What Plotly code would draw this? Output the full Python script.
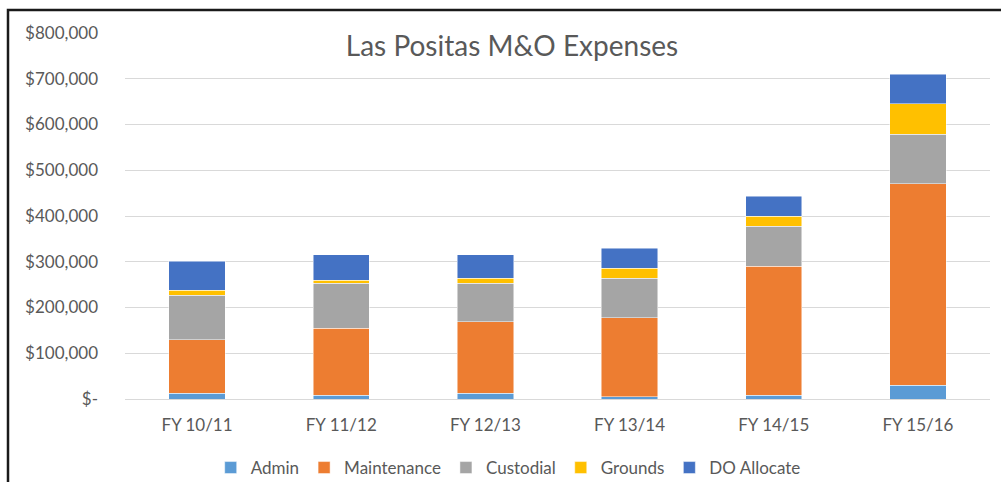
import plotly.graph_objects as go

categories = ["FY 10/11", "FY 11/12", "FY 12/13", "FY 13/14", "FY 14/15", "FY 15/16"]
admin = [12500, 8000, 12500, 5000, 8000, 30500]
maintenance = [116500, 146500, 156500, 172500, 282500, 439500]
custodial = [98000, 98500, 84000, 86000, 87500, 109000]
grounds = [11000, 7000, 11000, 22000, 22000, 66000]
do_allocate = [63000, 55500, 51000, 43500, 43500, 65000]

series = [
    ("Admin", admin, "#5B9BD5"),
    ("Maintenance", maintenance, "#ED7D31"),
    ("Custodial", custodial, "#A5A5A5"),
    ("Grounds", grounds, "#FFC000"),
    ("DO Allocate", do_allocate, "#4472C4"),
]

y_ticks = [0, 100000, 200000, 300000, 400000, 500000, 600000, 700000, 800000]
y_tick_labels = ["$-", "$100,000", "$200,000", "$300,000", "$400,000",
                 "$500,000", "$600,000", "$700,000", "$800,000"]

FONT = "Lato"
GRAY = "#595959"

fig = go.Figure()
for name, vals, color in series:
    fig.add_trace(go.Bar(
        x=categories, y=vals, name=name,
        marker=dict(color=color, line=dict(color="rgba(255,255,255,0.6)", width=0.8)),
    ))

fig.update_layout(
    width=1001, height=482,
    barmode="stack", bargap=0.61,
    paper_bgcolor="white", plot_bgcolor="white",
    margin=dict(l=125, r=11, t=33, b=83, autoexpand=False),
    font=dict(family=FONT, color=GRAY, size=17),
    title=dict(text="Las Positas M&O Expenses", xref="container", yref="container",
               x=0.5115, y=1 - 46 / 482, xanchor="center", yanchor="middle",
               font=dict(family=FONT, size=28, color=GRAY)),
    legend=dict(orientation="h", x=0.443, xanchor="center", y=(399 - 468) / 366, yanchor="middle",
                font=dict(family=FONT, size=17, color=GRAY), traceorder="normal",
                itemwidth=30),
    showlegend=True,
)
fig.update_yaxes(range=[0, 800000], tickvals=y_ticks, ticktext=y_tick_labels,
                 showgrid=True, gridcolor="#D9D9D9", gridwidth=1,
                 zeroline=True, zerolinecolor="#D9D9D9", zerolinewidth=1,
                 showline=False, ticks="", ticklabelstandoff=26, automargin=False,
                 tickfont=dict(family=FONT, size=17, color=GRAY))
fig.update_xaxes(showline=False, ticks="", showgrid=False, automargin=False,
                 tickfont=dict(family=FONT, size=17, color=GRAY), ticklabelstandoff=14)

# outer frame of the chart (top and left edges visible in the crop)
fig.add_shape(type="rect", xref="paper", yref="paper",
              x0=(8 - 125) / 865, x1=1.05, y0=-0.4, y1=(399 - 10) / 366,
              line=dict(color="#1a1a1a", width=2.5), layer="above")

fig.write_html("out.html", config={"displayModeBar": False},
               post_script="document.body.style.margin='0px';document.body.style.overflow='hidden';")
